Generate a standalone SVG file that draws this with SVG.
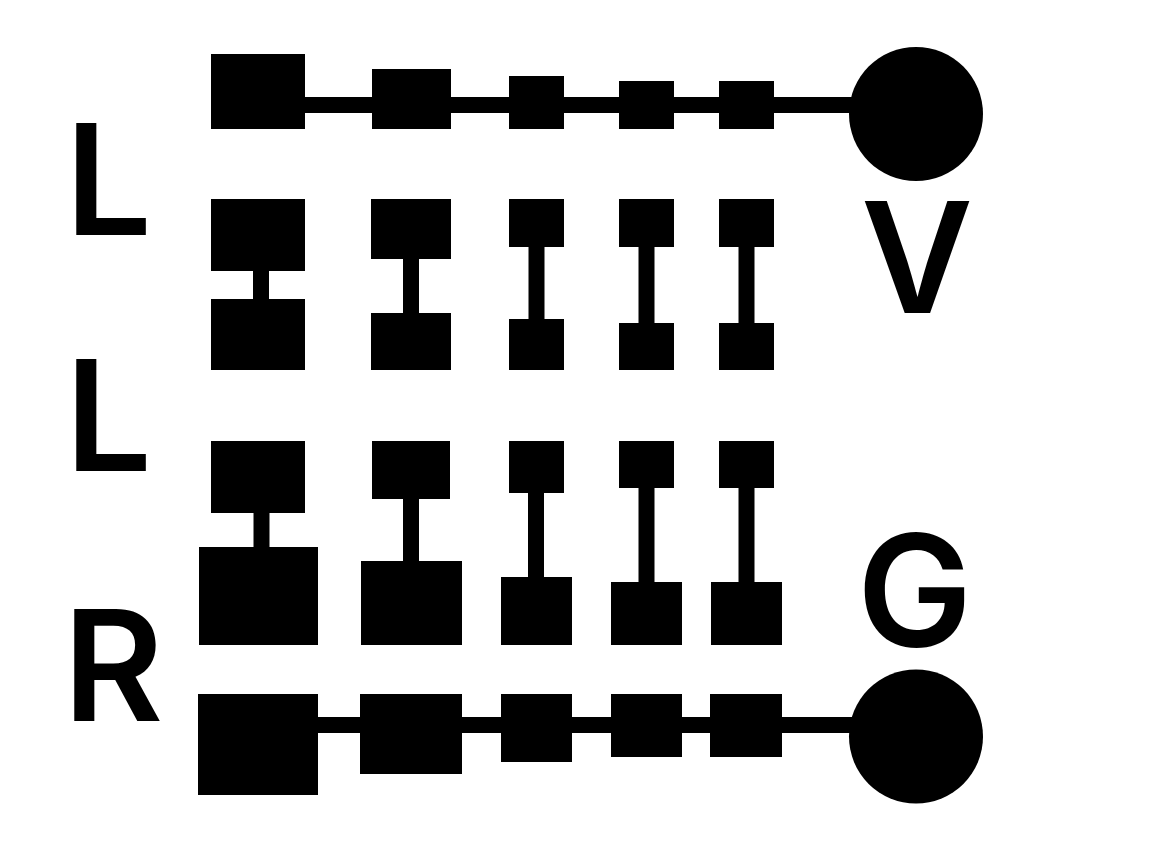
<svg xmlns="http://www.w3.org/2000/svg" width="1176" height="846" viewBox="0 0 1176 846">
<style>
.n{fill:#000}
.c{stroke:#000;stroke-width:16;fill:none}
.t{font-family:Inter,"Liberation Sans",sans-serif;font-weight:600;font-size:154px;fill:#000}
</style>
<rect width="1176" height="846" fill="#fff"/>
<g id="connectors">
<line class="c" x1="305" y1="105" x2="860" y2="105"/>
<line class="c" x1="318" y1="725" x2="860" y2="725"/>
<line class="c" x1="261" y1="270" x2="261" y2="300"/>
<line class="c" x1="411" y1="258" x2="411" y2="314"/>
<line class="c" x1="536.5" y1="246" x2="536.5" y2="320"/>
<line class="c" x1="646.5" y1="246" x2="646.5" y2="324"/>
<line class="c" x1="746.5" y1="246" x2="746.5" y2="324"/>
<line class="c" x1="261.5" y1="512" x2="261.5" y2="548"/>
<line class="c" x1="411" y1="498" x2="411" y2="562"/>
<line class="c" x1="536" y1="492" x2="536" y2="578"/>
<line class="c" x1="646.5" y1="487" x2="646.5" y2="583"/>
<line class="c" x1="746.5" y1="487" x2="746.5" y2="583"/>
</g>
<g id="row1">
<rect id="r1c1" class="n" x="211" y="54" width="94" height="75"/>
<rect id="r1c2" class="n" x="372" y="69" width="79" height="60"/>
<rect id="r1c3" class="n" x="509" y="76" width="55" height="53"/>
<rect id="r1c4" class="n" x="619" y="81" width="55" height="48"/>
<rect id="r1c5" class="n" x="719" y="81" width="55" height="48"/>
<circle id="r1end" class="n" cx="916" cy="114" r="67"/>
</g>
<g id="row2">
<rect id="r2t1" class="n" x="211" y="199" width="94" height="72"/>
<rect id="r2t2" class="n" x="371" y="199" width="80" height="60"/>
<rect id="r2t3" class="n" x="509" y="199" width="55" height="48"/>
<rect id="r2t4" class="n" x="619" y="199" width="55" height="48"/>
<rect id="r2t5" class="n" x="719" y="199" width="55" height="48"/>
<rect id="r2b1" class="n" x="211" y="299" width="94" height="71"/>
<rect id="r2b2" class="n" x="371" y="313" width="80" height="57"/>
<rect id="r2b3" class="n" x="509" y="319" width="55" height="51"/>
<rect id="r2b4" class="n" x="619" y="323" width="55" height="47"/>
<rect id="r2b5" class="n" x="719" y="323" width="55" height="47"/>
</g>
<g id="row3">
<rect id="r3t1" class="n" x="211" y="441" width="94" height="72"/>
<rect id="r3t2" class="n" x="372" y="441" width="78" height="58"/>
<rect id="r3t3" class="n" x="509" y="441" width="55" height="52"/>
<rect id="r3t4" class="n" x="619" y="441" width="55" height="47"/>
<rect id="r3t5" class="n" x="719" y="441" width="55" height="47"/>
<rect id="r3b1" class="n" x="199" y="547" width="119" height="98"/>
<rect id="r3b2" class="n" x="361" y="561" width="101" height="84"/>
<rect id="r3b3" class="n" x="501" y="577" width="71" height="68"/>
<rect id="r3b4" class="n" x="611" y="582" width="71" height="63"/>
<rect id="r3b5" class="n" x="711" y="582" width="71" height="63"/>
</g>
<g id="row4">
<rect id="r4c1" class="n" x="198" y="694" width="120" height="101"/>
<rect id="r4c2" class="n" x="360" y="694" width="102" height="80"/>
<rect id="r4c3" class="n" x="501" y="694" width="71" height="68"/>
<rect id="r4c4" class="n" x="611" y="694" width="71" height="63"/>
<rect id="r4c5" class="n" x="710" y="694" width="72" height="63"/>
<circle id="r4end" class="n" cx="916" cy="736.5" r="67"/>
</g>
<g id="labels">
<text id="lblL1" class="t" x="65" y="235">L</text>
<text id="lblL2" class="t" x="65" y="471">L</text>
<text id="lblR" class="t" x="63" y="721">R</text>
<text id="lblV" class="t" x="861" y="313">V</text>
<text id="lblG" class="t" x="857" y="646">G</text>
</g>
</svg>
